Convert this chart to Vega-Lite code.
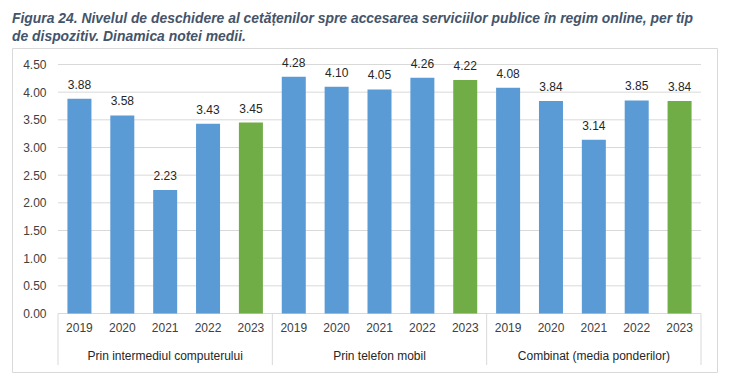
{
  "$schema": "https://vega.github.io/schema/vega-lite/v6.json",
  "autosize": "none",
  "width": 705,
  "height": 324,
  "padding": {"left": 12, "top": 48, "right": 18, "bottom": 5},
  "background": "white",
  "config": {
    "view": {"stroke": "#d9d9d9", "strokeWidth": 1},
    "font": "Liberation Sans",
    "axisY": {
      "title": null, "format": ".2f", "grid": false, "domain": false, "ticks": false,
      "offset": -46, "labelPadding": 12, "labelOverlap": false, "labelFlush": false,
      "labelFontSize": 12, "labelColor": "#404040", "labelFont": "Liberation Sans"
    }
  },
  "title": {
    "text": ["Figura 24. Nivelul de deschidere al cetățenilor spre accesarea serviciilor publice în regim online, per tip", "de dispozitiv. Dinamica notei medii."],
    "anchor": "start",
    "frame": "group",
    "font": "Liberation Sans",
    "fontSize": 13.9,
    "fontStyle": "italic",
    "fontWeight": "bold",
    "color": "#44546A",
    "lineHeight": 18.3,
    "offset": 4
  },
  "datasets": {
    "main": [
      {"g": "Prin intermediul computerului", "year": "2019", "key": "C|2019", "v": 3.88},
      {"g": "Prin intermediul computerului", "year": "2020", "key": "C|2020", "v": 3.58},
      {"g": "Prin intermediul computerului", "year": "2021", "key": "C|2021", "v": 2.23},
      {"g": "Prin intermediul computerului", "year": "2022", "key": "C|2022", "v": 3.43},
      {"g": "Prin intermediul computerului", "year": "2023", "key": "C|2023", "v": 3.45},
      {"g": "Prin telefon mobil", "year": "2019", "key": "M|2019", "v": 4.28},
      {"g": "Prin telefon mobil", "year": "2020", "key": "M|2020", "v": 4.10},
      {"g": "Prin telefon mobil", "year": "2021", "key": "M|2021", "v": 4.05},
      {"g": "Prin telefon mobil", "year": "2022", "key": "M|2022", "v": 4.26},
      {"g": "Prin telefon mobil", "year": "2023", "key": "M|2023", "v": 4.22},
      {"g": "Combinat (media ponderilor)", "year": "2019", "key": "K|2019", "v": 4.08},
      {"g": "Combinat (media ponderilor)", "year": "2020", "key": "K|2020", "v": 3.84},
      {"g": "Combinat (media ponderilor)", "year": "2021", "key": "K|2021", "v": 3.14},
      {"g": "Combinat (media ponderilor)", "year": "2022", "key": "K|2022", "v": 3.85},
      {"g": "Combinat (media ponderilor)", "year": "2023", "key": "K|2023", "v": 3.84}
    ],
    "grid": [
      {"t": 0}, {"t": 0.5}, {"t": 1}, {"t": 1.5}, {"t": 2},
      {"t": 2.5}, {"t": 3}, {"t": 3.5}, {"t": 4}, {"t": 4.5}
    ]
  },
  "data": {"name": "main"},
  "encoding": {
    "x": {
      "field": "key", "type": "nominal", "sort": null,
      "scale": {
        "domain": ["C|2019", "C|2020", "C|2021", "C|2022", "C|2023", "M|2019", "M|2020", "M|2021", "M|2022", "M|2023", "K|2019", "K|2020", "K|2021", "K|2022", "K|2023"],
        "paddingInner": 0, "paddingOuter": 0.7232, "align": 0.742
      },
      "axis": {
        "title": null, "orient": "bottom", "offset": -58.5, "domain": false, "ticks": false,
        "labelAngle": 0, "labelPadding": 9, "labelFontSize": 12, "labelColor": "#404040",
        "labelFont": "Liberation Sans", "labelOverlap": false,
        "labelExpr": "split(datum.label, '|')[1]"
      }
    }
  },
  "layer": [
    {
      "data": {"name": "grid"},
      "mark": {"type": "rule", "color": "#d9d9d9", "strokeWidth": 1},
      "encoding": {
        "x": {"datum": "C|2019", "type": "nominal", "bandPosition": 0},
        "x2": {"datum": "K|2023", "bandPosition": 1},
        "y": {
          "field": "t", "type": "quantitative",
          "scale": {"domain": [-1.057, 4.798], "nice": false, "zero": false},
          "axis": {"values": [0, 0.5, 1, 1.5, 2, 2.5, 3, 3.5, 4, 4.5]}
        }
      }
    },
    {
      "transform": [{"filter": "datum.year == '2019'"}],
      "mark": {"type": "rule", "color": "#d9d9d9", "strokeWidth": 1},
      "encoding": {
        "x": {"field": "key", "type": "nominal", "sort": null, "bandPosition": 0},
        "y": {"datum": 0, "type": "quantitative", "axis": {"values": [0, 0.5, 1, 1.5, 2, 2.5, 3, 3.5, 4, 4.5]}},
        "y2": {"datum": -0.93}
      }
    },
    {
      "transform": [{"filter": "datum.key == 'K|2023'"}],
      "mark": {"type": "rule", "color": "#d9d9d9", "strokeWidth": 1},
      "encoding": {
        "x": {"field": "key", "type": "nominal", "sort": null, "bandPosition": 1},
        "y": {"datum": 0, "type": "quantitative", "axis": {"values": [0, 0.5, 1, 1.5, 2, 2.5, 3, 3.5, 4, 4.5]}},
        "y2": {"datum": -0.93}
      }
    },
    {
      "mark": {"type": "bar", "width": {"band": 0.56}},
      "encoding": {
        "y": {"field": "v", "type": "quantitative", "axis": {"values": [0, 0.5, 1, 1.5, 2, 2.5, 3, 3.5, 4, 4.5]}},
        "color": {"condition": {"test": "datum.year == '2023'", "value": "#70AD47"}, "value": "#5B9BD5"}
      }
    },
    {
      "mark": {"type": "text", "baseline": "alphabetic", "dy": -10, "fontSize": 12, "color": "#262626", "font": "Liberation Sans"},
      "encoding": {
        "y": {"field": "v", "type": "quantitative", "axis": {"values": [0, 0.5, 1, 1.5, 2, 2.5, 3, 3.5, 4, 4.5]}},
        "text": {"field": "v", "type": "quantitative", "format": ".2f"}
      }
    },
    {
      "transform": [{"filter": "datum.year == '2021'"}],
      "mark": {"type": "text", "baseline": "middle", "fontSize": 12, "color": "#262626", "font": "Liberation Sans"},
      "encoding": {
        "y": {"datum": -0.763, "type": "quantitative", "axis": {"values": [0, 0.5, 1, 1.5, 2, 2.5, 3, 3.5, 4, 4.5]}},
        "text": {"field": "g", "type": "nominal"}
      }
    }
  ]
}
